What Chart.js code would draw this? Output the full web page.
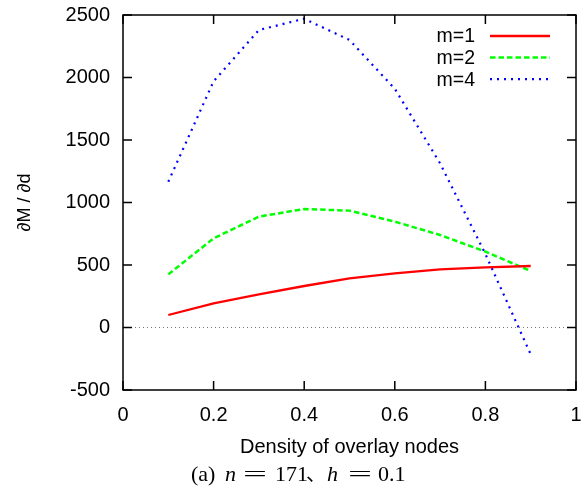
<!DOCTYPE html>
<html>
<head>
<meta charset="utf-8">
<script src="https://cdn.jsdelivr.net/npm/chart.js@4"></script>
<style>
  html, body { margin: 0; padding: 0; background: #fff; }
</style>
</head>
<body>
<canvas id="chart" width="584" height="490"></canvas>
<script>
// Data
const density = [0.1, 0.2, 0.3, 0.4, 0.5, 0.6, 0.7, 0.8, 0.9];
const m1 = [100, 193, 265, 332, 393, 433, 465, 481, 492];
const m2 = [425, 713, 887, 948, 935, 847, 740, 607, 452];
const m4 = [1166, 1970, 2380, 2470, 2300, 1910, 1313, 588, -215];
const seriesLabels = ['m=1', 'm=2', 'm=4'];
const xTicks = [0, 0.2, 0.4, 0.6, 0.8, 1];
const yTicks = [-500, 0, 500, 1000, 1500, 2000, 2500];

const SANS = '"Liberation Sans", Arial, sans-serif';
const SERIF = '"Liberation Serif", "Times New Roman", serif';

function points(ys) {
  return density.map((x, i) => ({ x: x, y: ys[i] }));
}

// Legend drawn inside the plot, text on the left and line sample on the right
const innerLegend = {
  id: 'innerLegend',
  afterDatasetsDraw(chart) {
    const ctx = chart.ctx;
    ctx.save();
    chart.data.datasets.forEach((ds, i) => {
      const y = 36 + i * 21.6;
      ctx.font = '19.5px ' + SANS;
      ctx.fillStyle = '#000';
      ctx.textAlign = 'right';
      ctx.textBaseline = 'middle';
      ctx.fillText(ds.label, 475, y + 1);
      ctx.strokeStyle = ds.borderColor;
      ctx.lineWidth = ds.borderWidth;
      ctx.setLineDash(ds.borderDash || []);
      ctx.beginPath();
      ctx.moveTo(490, y);
      ctx.lineTo(550, y);
      ctx.stroke();
    });
    ctx.restore();
  }
};

// gnuplot-like box with inward ticks on all four sides
const frame = {
  id: 'frame',
  afterDatasetsDraw(chart) {
    const { ctx, chartArea: a, scales } = chart;
    const tl = 9;
    ctx.save();
    ctx.strokeStyle = '#000';
    ctx.lineWidth = 1.5;
    ctx.setLineDash([]);
    ctx.strokeRect(a.left, a.top, a.right - a.left, a.bottom - a.top);
    ctx.beginPath();
    scales.x.ticks.forEach(t => {
      const px = scales.x.getPixelForValue(t.value);
      ctx.moveTo(px, a.bottom); ctx.lineTo(px, a.bottom - tl);
      ctx.moveTo(px, a.top); ctx.lineTo(px, a.top + tl);
    });
    scales.y.ticks.forEach(t => {
      const py = scales.y.getPixelForValue(t.value);
      ctx.moveTo(a.left, py); ctx.lineTo(a.left + tl, py);
      ctx.moveTo(a.right, py); ctx.lineTo(a.right - tl, py);
    });
    ctx.stroke();
    ctx.restore();
  }
};

// Figure caption: (a) n = 171、h = 0.1, pieces placed like the TeX output
const caption = {
  id: 'caption',
  afterDraw(chart) {
    const ctx = chart.ctx;
    const rm = '22px ' + SERIF;
    const it = 'italic 22px ' + SERIF;
    const parts = [
      ['(a)', rm, 191],
      ['n', it, 225],
      ['=', rm, 243, 24],
      ['171', rm, 275],
      ['、', '20px "Noto Sans CJK JP", ' + SERIF, 306],
      ['h', it, 327],
      ['=', rm, 348, 24],
      ['0.1', rm, 378]
    ];
    const base = 481;
    ctx.save();
    ctx.fillStyle = '#000';
    ctx.textBaseline = 'alphabetic';
    ctx.textAlign = 'left';
    parts.forEach(p => {
      ctx.font = p[1];
      if (p[3]) {
        const w = ctx.measureText(p[0]).width;
        ctx.save();
        ctx.translate(p[2], base);
        ctx.scale(p[3] / w, 1);
        ctx.fillText(p[0], 0, 0);
        ctx.restore();
      } else {
        ctx.fillText(p[0], p[2], base);
      }
    });
    ctx.restore();
  }
};

new Chart(document.getElementById('chart'), {
  type: 'line',
  data: {
    datasets: [{
      label: seriesLabels[0],
      data: points(m1),
      borderColor: '#ff0000',
      borderWidth: 2.3,
      borderDash: []
    }, {
      label: seriesLabels[1],
      data: points(m2),
      borderColor: '#00ff00',
      borderWidth: 2.5,
      borderDash: [5.5, 3]
    }, {
      label: seriesLabels[2],
      data: points(m4),
      borderColor: '#0000ff',
      borderWidth: 2.2,
      borderDash: [2, 5]
    }]
  },
  options: {
    responsive: false,
    animation: false,
    devicePixelRatio: 1,
    layout: { padding: { top: 15, right: 8, bottom: 31, left: 0 } },
    elements: {
      point: { radius: 0 },
      line: { tension: 0, fill: false, borderCapStyle: 'butt' }
    },
    plugins: {
      legend: { display: false },
      tooltip: { enabled: false }
    },
    scales: {
      x: {
        type: 'linear',
        min: 0,
        max: 1,
        afterBuildTicks: s => { s.ticks = xTicks.map(v => ({ value: v })); },
        afterFit: s => { s.height = 69; s.paddingLeft = 0; s.paddingRight = 0; },
        grid: { display: false, drawTicks: false },
        border: { display: false },
        ticks: {
          color: '#000',
          padding: 13,
          maxRotation: 0,
          callback: v => String(v),
          font: { family: SANS, size: 20 }
        },
        title: {
          display: true,
          text: 'Density of overlay nodes',
          color: '#000',
          padding: { top: 0, bottom: 0 },
          font: { family: SANS, size: 20 }
        }
      },
      y: {
        min: -500,
        max: 2500,
        afterBuildTicks: s => { s.ticks = yTicks.map(v => ({ value: v })); },
        afterFit: s => { s.width = 123; s.paddingTop = 0; s.paddingBottom = 0; },
        grid: {
          drawTicks: false,
          lineWidth: 1,
          color: c => (c.tick && c.tick.value === 0 ? '#777777' : 'rgba(0,0,0,0)')
        },
        border: { display: false, dash: [1, 3] },
        ticks: {
          color: '#000',
          padding: 13,
          callback: v => String(v),
          font: { family: SANS, size: 20 }
        },
        title: {
          display: true,
          text: '∂M / ∂d',
          color: '#000',
          padding: { top: 14, bottom: 0 },
          font: { family: SANS, size: 18 }
        }
      }
    }
  },
  plugins: [frame, innerLegend, caption]
});
</script>
</body>
</html>
